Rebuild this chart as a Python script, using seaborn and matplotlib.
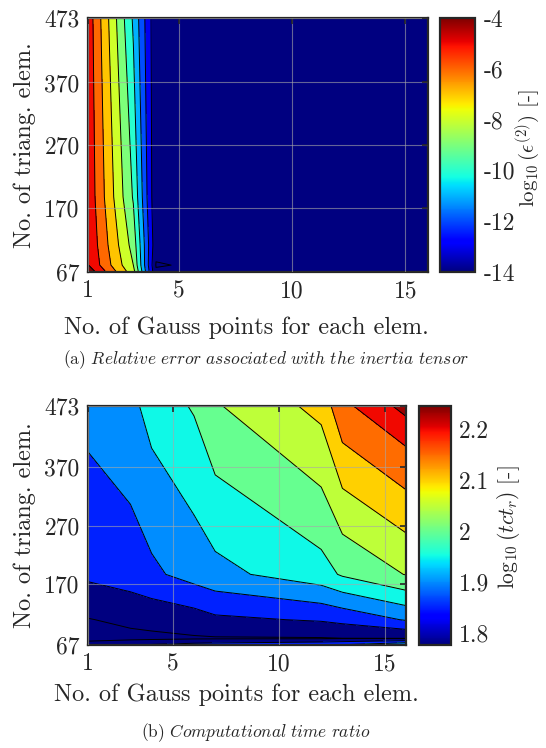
import numpy as np
import matplotlib
matplotlib.use('Agg')
import matplotlib.pyplot as plt
from matplotlib.colors import Normalize
from matplotlib.cm import ScalarMappable
import seaborn as sns

# grid of the two maps: Gauss points per element / number of triangular elements
gauss_pts = [1, 3, 4, 6, 7, 12, 13, 16]
n_elem = [67, 78, 110, 187, 473]

# (a) log10 of relative error of the inertia tensor, one row per mesh
err_67 = [-3.3, -7.6, -13.9, -13.8, -13.8, -13.7, -13.8, -13.7]
err_78 = [-3.95, -8.0, -14.05, -13.9, -13.8, -13.8, -13.7, -13.8]
err_110 = [-4.1, -8.4, -13.75, -13.8, -13.7, -13.8, -13.8, -13.7]
err_187 = [-4.25, -9.1, -13.9, -13.8, -13.8, -13.7, -13.8, -13.7]
err_473 = [-4.37, -10.15, -13.8, -13.7, -13.8, -13.7, -13.8, -13.7]

# (b) log10 of computational time ratio
tct_67 = [1.835, 1.845, 1.856, 1.87, 1.875, 1.895, 1.905, 1.955]
tct_78 = [1.776, 1.788, 1.79, 1.795, 1.796, 1.797, 1.799, 1.799]
tct_110 = [1.798, 1.81, 1.815, 1.826, 1.84, 1.855, 1.864, 1.904]
tct_187 = [1.86, 1.875, 1.89, 1.92, 1.935, 1.98, 2.006, 2.052]
tct_473 = [1.915, 1.935, 1.97, 2.005, 2.045, 2.115, 2.19, 2.247]

err_levels = [-14, -13, -12, -11, -10, -9, -8, -7, -6, -5, -4]
tct_levels = [1.8, 1.85, 1.9, 1.95, 2.0, 2.05, 2.1, 2.15, 2.2, 2.235]

x_ticks = [1, 5, 10, 15]
y_ticks = [67, 170, 270, 370, 473]

sns.set_style('white')
plt.rcParams['font.family'] = 'serif'
plt.rcParams['font.serif'] = ['cmr10']
plt.rcParams['mathtext.fontset'] = 'cm'
plt.rcParams['axes.formatter.use_mathtext'] = True

jet = matplotlib.colormaps['jet']
W, H = 546, 748
fig = plt.figure(figsize=(W / 100, H / 100), dpi=100)


def box(l, t, r, b):
    return [l / W, 1 - b / H, (r - l) / W, (b - t) / H]


def draw_map(ax, cax, Z, levels, vmin, vmax, lo, hi, cticks, clabels):
    X, Y = np.meshgrid(gauss_pts, n_elem)
    norm = Normalize(vmin, vmax)
    # MATLAB style: each band takes the colour of its lower level
    fill_levels = [lo] + levels[1:] + [hi]
    band_cols = [jet(norm(v)) for v in [vmin] + levels[1:]]
    ax.contourf(X, Y, Z, levels=fill_levels, colors=band_cols)
    ax.contour(X, Y, Z, levels=levels, colors='k', linewidths=0.7,
               linestyles='solid')
    ax.set_xlim(1, 16)
    ax.set_ylim(67, 473)
    ax.set_xticks(x_ticks)
    ax.set_xticklabels([str(v) for v in x_ticks])
    ax.set_yticks(y_ticks)
    ax.set_yticklabels([str(v) for v in y_ticks])
    ax.grid(True, color='#a8a8a8', alpha=0.6, linewidth=0.8)
    ax.set_axisbelow(False)
    ax.tick_params(direction='in', top=True, right=True, length=4, width=1.2,
                   labelsize=17, pad=6)
    for s in ax.spines.values():
        s.set_linewidth(1.6)
    cb = fig.colorbar(ScalarMappable(norm=norm, cmap=jet), cax=cax)
    cb.set_ticks(cticks)
    cb.set_ticklabels(clabels)
    cax.tick_params(direction='in', right=True, left=False, length=4, width=1.2,
                    labelsize=17, pad=6)
    cb.outline.set_linewidth(1.6)


# (a) error map
ax1 = fig.add_axes(box(88, 18, 428, 272))
cax1 = fig.add_axes(box(440, 18, 475, 272))
Z1 = np.array([err_67, err_78, err_110, err_187, err_473])
draw_map(ax1, cax1, Z1, err_levels, -14, -4, -16, -2,
         [-14, -12, -10, -8, -6, -4], ['-14', '-12', '-10', '-8', '-6', '-4'])

# (b) time ratio map
ax2 = fig.add_axes(box(88, 406, 406, 645))
cax2 = fig.add_axes(box(419, 406, 451, 645))
Z2 = np.array([tct_67, tct_78, tct_110, tct_187, tct_473])
draw_map(ax2, cax2, Z2, tct_levels, 1.776, 2.247, 1.7, 2.3,
         [1.8, 1.9, 2.0, 2.1, 2.2], ['1.8', '1.9', '2', '2.1', '2.2'])


def ftext(x, y, s, **kw):
    fig.text(x / W, 1 - y / H, s, ha='center', va='center', **kw)


ftext(25, 145, 'No. of triang. elem.', rotation=90, fontsize=17.5)
ftext(246, 328, 'No. of Gauss points for each elem.', fontsize=17.5)
ftext(528, 148, r'$\log_{10}(\epsilon^{(2)})$ [-]', rotation=90, fontsize=15)
ftext(266, 360, r'(a) $\mathit{Relative\ error\ associated\ with\ the\ inertia\ tensor}$',
      fontsize=12.5)

ftext(25, 525, 'No. of triang. elem.', rotation=90, fontsize=17.5)
ftext(236, 695, 'No. of Gauss points for each elem.', fontsize=17.5)
ftext(508, 527, r'$\log_{10}(tct_r)$ [-]', rotation=90, fontsize=15.5)
ftext(256, 733, r'(b) $\mathit{Computational\ time\ ratio}$', fontsize=12.5)

fig.savefig('out.png', dpi=100)
